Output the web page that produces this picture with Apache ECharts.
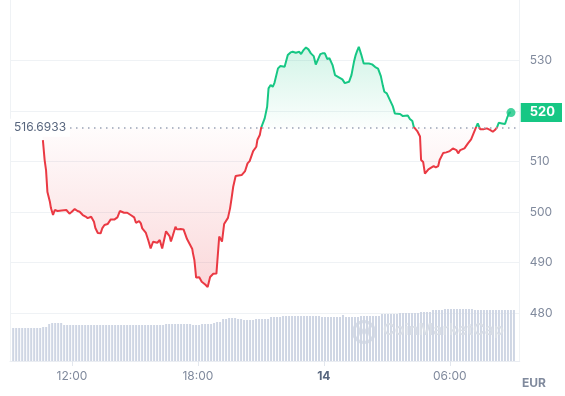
<!DOCTYPE html>
<html><head><meta charset="utf-8">
<script src="https://cdn.jsdelivr.net/npm/echarts@6.0.0/dist/echarts.min.js"></script>
<style>html,body{margin:0;padding:0;background:#fff}#c{width:565px;height:396px}#e{font:10px monospace;white-space:pre-wrap;position:absolute;left:0;top:0;width:565px}</style>
</head><body><div id="c"></div><div id="e"></div>
<script>
// time in minutes from 00:00 on the 13th
const minutes = [637,642,646,650,657,660,666,671,679,691,704,713,719,728,736,742,751,759,765,775,
783,787,794,802,807,813,822,831,841,850,857,869,878,888,898,903,912,917,921,931,
938,945,952,964,971,978,983,989,999,1003,1008,1016,1020,1031,1039,1044,1049,1058,1064,1066,
1070,1072,1075,1084,1091,1101,1108,1115,1124,1133,1141,1149,1155,1166,1172,1176,1181,1188,1205,1209,
1215,1222,1228,1238,1247,1250,1257,1261,1271,1278,1282,1288,1294,1299,1304,1309,1316,1328,1332,1337,
1345,1351,1356,1360,1370,1375,1382,1389,1396,1403,1411,1417,1422,1430,1436,1443,1450,1456,1465,1472,
1483,1493,1500,1512,1519,1526,1531,1535,1540,1547,1554,1559,1569,1578,1587,1595,1603,1609,1613,1620,
1629,1637,1643,1658,1666,1671,1680,1686,1693,1697,1707,1715,1718,1724,1729,1739,1748,1754,1760,1767,
1771,1781,1790,1800,1809,1819,1824,1830,1842,1852,1861,1868,1875,1880,1887,1896,1906,1915,1923,1929,
1935,1940,1949,1958,1965,1970,1975];
const prices = [514.26,510.30,508.32,503.96,502.04,500.79,499.41,500.40,500.20,500.30,500.40,499.70,500.00,500.59,500.20,500.06,499.41,499.11,498.81,499.07,
498.08,496.83,495.84,495.78,496.83,497.43,497.62,498.55,498.51,498.95,500.20,499.86,499.86,499.41,498.95,497.88,498.22,497.76,496.77,495.94,
494.46,492.81,494.12,493.92,494.46,492.77,493.07,496.18,495.25,494.16,495.25,497.09,496.57,496.63,496.57,496.73,494.65,493.47,492.67,491.82,
490.50,489.17,487.03,487.07,486.20,485.64,485.15,487.13,487.78,487.82,495.15,494.16,497.62,498.85,500.73,502.57,505.01,507.13,507.33,507.47,
508.12,509.64,510.10,512.08,512.93,514.26,515.25,516.73,518.55,520.85,524.50,525.15,524.81,525.60,525.80,528.46,528.91,528.77,528.91,531.09,
531.62,531.74,532.08,531.54,531.74,531.29,532.08,532.61,532.22,531.43,530.89,529.21,528.97,531.29,531.43,531.43,530.30,530.50,529.11,527.13,
526.69,526.28,525.54,525.80,527.13,529.70,531.09,531.88,532.73,531.19,529.41,529.25,529.41,529.25,528.71,528.42,526.93,524.95,523.82,523.50,
522.18,520.99,519.54,519.41,519.01,518.91,519.11,518.42,518.02,516.89,516.04,514.95,510.30,509.90,507.62,508.46,508.85,509.11,508.85,509.11,
510.30,511.68,511.82,512.08,512.61,512.28,511.62,512.28,512.61,513.60,514.40,515.58,516.77,517.56,516.38,516.38,516.57,516.28,515.90,516.24,
516.77,517.68,517.56,517.43,518.87,519.66,519.70];
const baseline = 516.6933;
// volume bars (relative units), one every 8.5 minutes
const volStart = 552, volStep = 8.5;
const volume = [33,33,33,33,33,33,33,33,33,33,34,34,37,38,38,38,38,
36,36,36,36,36,36,36,36,36,36,36,36,36,36,36,36,36,36,36,36,36,36,36,36,36,36,36,36,36,36,36,36,36,36,
37,37,37,37,37,37,37,37,37,36,36,36,37,37,37,37,38,39,39,42,42,43,43,43,42,42,41,41,41,41,
42,42,42,42,42,44,44,44,44,45,45,45,45,45,45,45,45,45,45,45,45,45,
44,44,44,44,44,44,44,46,44,44,44,44,44,45,45,45,45,45,45,45,
47,47,47,47,47,47,48,48,48,48,48,48,48,49,49,49,49,51,51,51,51,
52,52,52,52,52,52,52,52,52,52,51,51,51,51,51,51,51,51,51,51,51,51,51,51];
const xTicks = [720, 1080, 1440, 1800];
const yTicks = [480, 490, 500, 510, 520, 530];
const currency = 'EUR';

const GREEN = '#16c784', RED = '#ea3943';
const FONT = 'Inter';
const xMin = 543, xMax = 2000, yMin = 470.5, yMax = 542;

const priceData = minutes.map((m, i) => [m, prices[i]]);
const volData = volume.map((v, i) => [volStart + i * volStep, v]);
const last = priceData[priceData.length - 1];
const maxP = Math.max(...prices), minP = Math.min(...prices);
const f = (maxP - baseline) / (maxP - minP);

function fmtTime(m) {
  if (m === 1440) return '{b|14}';
  const mm = ((m % 1440) + 1440) % 1440;
  return String(Math.floor(mm / 60)).padStart(2, '0') + ':' + String(mm % 60).padStart(2, '0');
}

try {
const chart = echarts.init(document.getElementById('c'), null, {renderer: 'canvas'});
chart.setOption({
  animation: false,
  backgroundColor: '#fff',
  textStyle: {fontFamily: FONT},
  grid: [
    {left: 10, right: 41, top: 0, bottom: 35},
    {left: 10, right: 41, top: 301, bottom: 35}
  ],
  xAxis: [
    {type: 'value', gridIndex: 0, min: xMin, max: xMax,
     axisLine: {show: true, onZero: false, lineStyle: {color: '#eaedf2', width: 1}},
     axisTick: {show: true, customValues: xTicks, length: 5, lineStyle: {color: '#e3e7ee'}},
     axisLabel: {customValues: xTicks, formatter: fmtTime, color: '#808a9d', fontSize: 12, fontFamily: FONT, margin: 9,
       rich: {b: {fontWeight: 'bold', color: '#58667e', fontSize: 12, fontFamily: FONT}}},
     splitLine: {show: false}},
    {type: 'value', gridIndex: 1, min: xMin, max: xMax, show: false}
  ],
  yAxis: [
    {type: 'value', gridIndex: 0, position: 'right', min: yMin, max: yMax,
     axisLine: {show: true, onZero: false, lineStyle: {color: '#eff2f5'}},
     axisTick: {show: false, customValues: yTicks},
     axisLabel: {customValues: yTicks, color: '#808a9d', fontSize: 12, fontFamily: FONT, margin: 10},
     splitLine: {show: true, lineStyle: {color: '#eff2f5', width: 1}}},
    {type: 'value', gridIndex: 0, position: 'left', min: yMin, max: yMax, z: 10,
     axisLine: {show: true, onZero: false, lineStyle: {color: '#eff2f5'}},
     axisTick: {show: false},
     axisLabel: {inside: true, customValues: [baseline], formatter: v => v.toFixed(4), color: '#58667e',
       fontSize: 12, fontFamily: FONT, margin: 0, backgroundColor: '#fff', padding: [3, 4, 3, 4]},
     splitLine: {show: false}},
    {type: 'value', gridIndex: 0, position: 'right', min: yMin, max: yMax, z: 10,
     axisLine: {show: false}, axisTick: {show: false}, splitLine: {show: false},
     axisLabel: {customValues: [last[1]], formatter: v => String(Math.round(v)), color: '#fff', fontWeight: 'bold',
       fontSize: 13, fontFamily: FONT, margin: 1, backgroundColor: GREEN, padding: [3, 7, 3, 9]}},
    {type: 'value', gridIndex: 1, min: 0, max: 60, show: false}
  ],
  graphic: [
    {type: 'group', left: 351, top: 319, z: 5, silent: true, children: [
      {type: 'circle', shape: {cx: 12, cy: 12, r: 10.5}, style: {fill: 'none', stroke: '#d9dee6', lineWidth: 3}},
      {type: 'polyline', shape: {points: [[6, 16], [8.5, 8], [12, 14], [15.5, 8], [18, 16]]}, style: {fill: 'none', stroke: '#d9dee6', lineWidth: 2.5}}
    ]},
    {type: 'text', left: 383, top: 322, z: 5, silent: true,
     style: {text: 'CoinMarketCap', fill: '#d9dee6', font: '600 16px Inter'}},
    {type: 'text', left: 522, top: 377, silent: true,
     style: {text: currency, fill: '#808a9d', font: 'bold 12px Inter'}}
  ],
  series: [
    {type: 'line', xAxisIndex: 0, yAxisIndex: 0, data: priceData, showSymbol: false, symbol: 'none',
     lineStyle: {width: 2, color: new echarts.graphic.LinearGradient(0, 0, 0, 1, [
       {offset: 0, color: GREEN}, {offset: f, color: GREEN}, {offset: f, color: RED}, {offset: 1, color: RED}])},
     areaStyle: {origin: baseline, color: new echarts.graphic.LinearGradient(0, 0, 0, 1, [
       {offset: 0, color: 'rgba(22,199,132,0.28)'},
       {offset: f, color: 'rgba(22,199,132,0.02)'},
       {offset: f, color: 'rgba(234,57,67,0.02)'},
       {offset: 1, color: 'rgba(234,57,67,0.28)'}
     ])},
     markLine: {silent: true, symbol: 'none', label: {show: false}, animation: false,
       lineStyle: {color: '#9aa3b5', type: [1.5, 4.5], width: 1.5},
       data: [{yAxis: baseline}]},
     z: 3},
    {type: 'scatter', xAxisIndex: 0, yAxisIndex: 0, data: [last], symbolSize: 9,
     itemStyle: {color: GREEN}, z: 4},
    {type: 'bar', xAxisIndex: 1, yAxisIndex: 3, data: volData, barWidth: 2,
     itemStyle: {color: '#cfd6e4'}, z: 1}
  ]
});
} catch (err) { document.getElementById('e').textContent = String(err.stack).slice(0, 600); }
</script>
</body></html>
